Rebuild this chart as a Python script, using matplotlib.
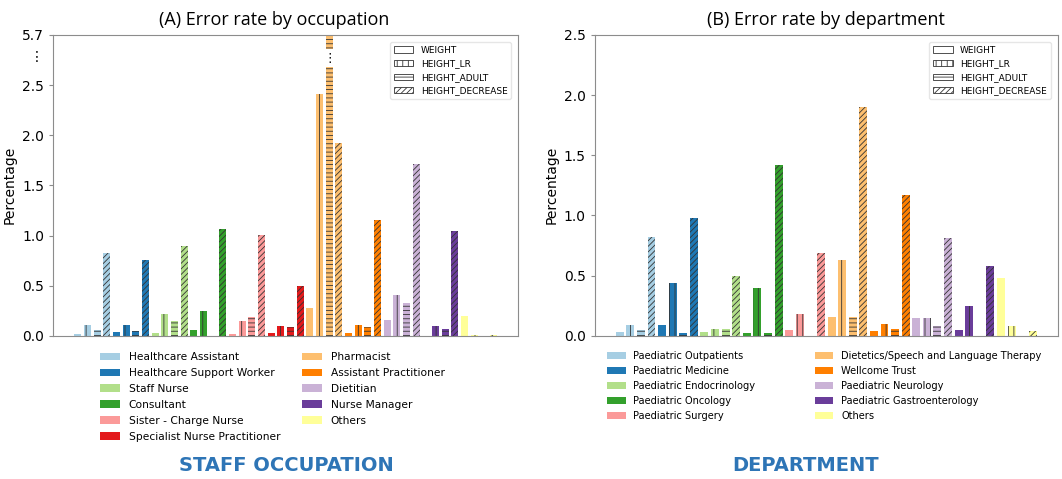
import numpy as np
import matplotlib
matplotlib.use("Agg")
import matplotlib.pyplot as plt
from matplotlib.patches import Patch

# ---- data ----
occupations = ["Healthcare Assistant", "Healthcare Support Worker", "Staff Nurse",
               "Consultant", "Sister - Charge Nurse", "Specialist Nurse Practitioner",
               "Pharmacist", "Assistant Practitioner", "Dietitian", "Nurse Manager",
               "Others"]
occ_weight = [0.02, 0.04, 0.03, 0.06, 0.02, 0.03, 0.28, 0.03, 0.16, 0.00, 0.20]
occ_height_lr = [0.11, 0.11, 0.22, 0.25, 0.15, 0.10, 2.41, 0.11, 0.41, 0.10, 0.01]
occ_height_adult = [0.06, 0.05, 0.15, 0.00, 0.19, 0.09, 5.70, 0.09, 0.33, 0.07, 0.00]
occ_height_decrease = [0.83, 0.76, 0.90, 1.06, 1.01, 0.50, 1.92, 1.15, 1.71, 1.04, 0.01]

departments = ["Paediatric Outpatients", "Paediatric Medicine", "Paediatric Endocrinology",
               "Paediatric Oncology", "Paediatric Surgery",
               "Dietetics/Speech and Language Therapy", "Wellcome Trust",
               "Paediatric Neurology", "Paediatric Gastroenterology", "Others"]
dep_weight = [0.03, 0.09, 0.03, 0.02, 0.05, 0.16, 0.04, 0.15, 0.05, 0.48]
dep_height_lr = [0.09, 0.44, 0.06, 0.40, 0.18, 0.63, 0.10, 0.15, 0.25, 0.08]
dep_height_adult = [0.05, 0.02, 0.06, 0.02, 0.00, 0.16, 0.06, 0.08, 0.00, 0.00]
dep_height_decrease = [0.82, 0.98, 0.50, 1.42, 0.69, 1.90, 1.17, 0.81, 0.58, 0.04]

measures = ["WEIGHT", "HEIGHT_LR", "HEIGHT_ADULT", "HEIGHT_DECREASE"]
hatches = ["", "|||", "----", "//////"]

# broken y axis on the occupation chart
occ_yticks = [0.0, 0.5, 1.0, 1.5, 2.0, 2.5, 2.8, 3.0]
occ_yticklabels = ["0.0", "0.5", "1.0", "1.5", "2.0", "2.5", "\u22ee", "5.7"]
break_low, break_high = 2.68, 2.86

paired = plt.get_cmap("Paired").colors
occ_colors = [paired[i] for i in range(11)]
dep_colors = [paired[i] for i in [0, 1, 2, 3, 4, 6, 7, 8, 9, 10]]

plt.rcParams["hatch.linewidth"] = 0.6
plt.rcParams["axes.edgecolor"] = "#8c8c8c"


def draw(ax, colors, series, top):
    n = len(colors)
    base = np.arange(n) * 4
    for j, vals in enumerate(series):
        ax.bar(base + j, vals, width=0.75, color=colors, hatch=hatches[j],
               edgecolor="#333333", linewidth=0)
    ax.set_ylim(0, top)
    ax.set_xticks([])
    ax.set_ylabel("Percentage", fontsize=10)
    ax.tick_params(axis="y", labelsize=10, length=3, color="#8c8c8c")
    ax.legend([Patch(facecolor="white", edgecolor="#333333", hatch=h, linewidth=0.6)
               for h in hatches], measures, loc="upper right", fontsize=6.5,
              handlelength=2.2, borderaxespad=0.8, framealpha=1,
              edgecolor="#e6e6e6")
    return base


fig = plt.figure(figsize=(10.62, 4.79), dpi=100)
ax1 = fig.add_axes([0.050, 0.299, 0.438, 0.628])
ax2 = fig.add_axes([0.560, 0.299, 0.436, 0.628])

occ_series = [occ_weight, occ_height_lr, occ_height_adult, occ_height_decrease]
base = draw(ax1, occ_colors, occ_series, 3.0)
ax1.set_yticks(occ_yticks)
ax1.set_yticklabels(occ_yticklabels)
ax1.yaxis.get_major_ticks()[6].tick1line.set_visible(False)

# cut the off-scale bar and mark the break
tall = int(np.argmax(occ_height_adult))
bx = base[tall] + 2
ax1.bar(bx, break_high - break_low, bottom=break_low, width=0.9, color="white",
        linewidth=0, zorder=3)
ax1.text(bx, (break_low + break_high) / 2, "\u22ee", ha="center", va="center",
         fontsize=9, zorder=4)

dep_series = [dep_weight, dep_height_lr, dep_height_adult, dep_height_decrease]
draw(ax2, dep_colors, dep_series, 2.5)
ax2.set_yticks([0.0, 0.5, 1.0, 1.5, 2.0, 2.5])

title_font = ["Open Sans", "DejaVu Sans"]
ax1.set_title("(A) Error rate by occupation", fontsize=13, family=title_font,
              pad=7, x=0.476)
ax2.set_title("(B) Error rate by department", fontsize=13, family=title_font, pad=7)

fig.legend([Patch(facecolor=c) for c in occ_colors], occupations,
           loc="upper left", bbox_to_anchor=(0.085, 0.285), ncol=2, frameon=False,
           fontsize=7.7, handlelength=1.9, handleheight=0.7, labelspacing=0.55,
           columnspacing=2.0)
fig.legend([Patch(facecolor=c) for c in dep_colors], departments,
           loc="upper left", bbox_to_anchor=(0.563, 0.285), ncol=2, frameon=False,
           fontsize=7.1, handlelength=1.9, handleheight=0.7, labelspacing=0.5,
           columnspacing=6.0)

label_font = ["DejaVu Sans"]
fig.text(0.270, 0.028, "STAFF OCCUPATION", ha="center", va="center", fontsize=14,
         fontweight="bold", family=label_font, color="#2e75b6")
fig.text(0.759, 0.028, "DEPARTMENT", ha="center", va="center", fontsize=14,
         fontweight="bold", family=label_font, color="#2e75b6")

fig.savefig("out.png", dpi=100)
